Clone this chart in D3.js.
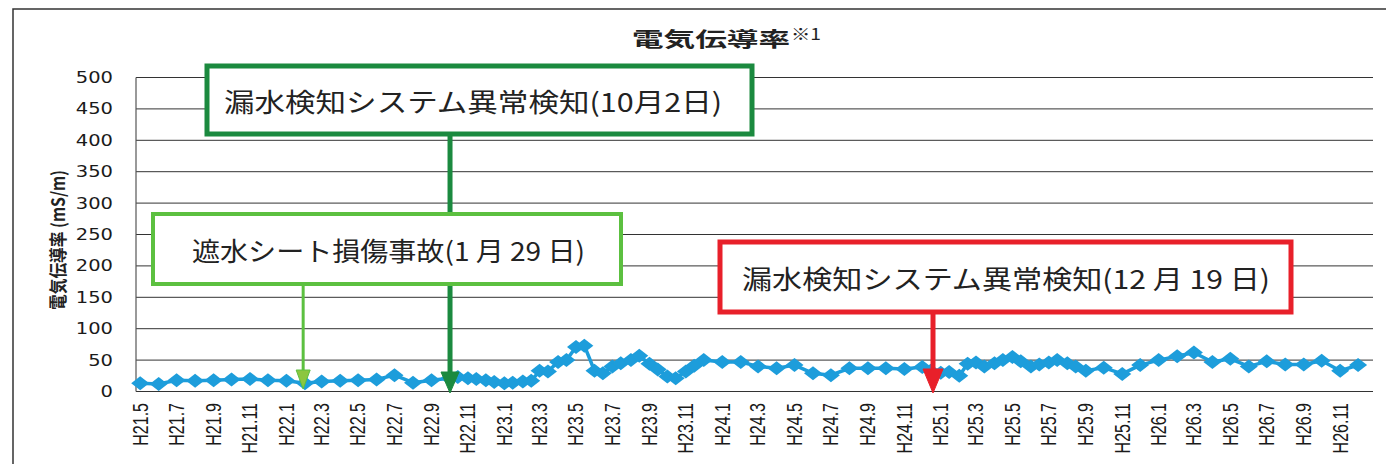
<!DOCTYPE html>
<html>
<head>
<meta charset="utf-8">
<script src="https://cdn.jsdelivr.net/npm/d3@7"></script>
<style>
  body { margin: 0; background: #fff; }
  svg { display: block; }
</style>
</head>
<body>
<div id="chart"></div>
<script>
var width = 1386;
var height = 464;

// sampling dates (monthly, twice a month in some periods)
var sampleDates = [
  "2009-05-01","2009-06-01","2009-07-01","2009-08-01","2009-09-01","2009-10-01","2009-11-01","2009-12-01",
  "2010-01-01","2010-02-01","2010-03-01","2010-04-01","2010-05-01","2010-06-01","2010-07-01","2010-08-01","2010-09-01",
  "2010-10-01","2010-10-15","2010-11-01","2010-11-15","2010-12-01","2010-12-15",
  "2011-01-01","2011-01-15","2011-02-01","2011-02-15","2011-03-01","2011-03-15","2011-04-01","2011-04-15",
  "2011-05-01","2011-05-15","2011-06-01","2011-06-15","2011-07-01","2011-07-15","2011-08-01","2011-08-15",
  "2011-09-01","2011-09-15","2011-10-01","2011-10-15","2011-11-01","2011-11-15",
  "2011-12-01","2012-01-01","2012-02-01","2012-03-01","2012-04-01","2012-05-01","2012-06-01","2012-07-01",
  "2012-08-01","2012-09-01","2012-10-01","2012-11-01",
  "2012-12-01","2012-12-15","2013-01-01","2013-01-15","2013-02-01","2013-02-15","2013-03-01","2013-03-15",
  "2013-04-01","2013-04-15","2013-05-01","2013-05-15","2013-06-01","2013-06-15","2013-07-01","2013-07-15",
  "2013-08-01","2013-08-15","2013-09-01",
  "2013-10-01","2013-11-01","2013-12-01","2014-01-01","2014-02-01","2014-03-01","2014-04-01","2014-05-01",
  "2014-06-01","2014-07-01","2014-08-01","2014-09-01","2014-10-01","2014-11-01","2014-12-01"
];

var conductivity = [
  13, 12, 18, 17, 18, 19, 20, 18,
  17, 13, 16, 17, 18, 19, 26, 14, 18,
  21, 23, 21, 20, 18, 15,
  13, 14, 16, 17, 33, 32, 47, 50,
  71, 73, 33, 29, 40, 45, 50, 57,
  44, 35, 24, 21, 32, 41,
  50, 47, 47, 40, 37, 42, 29, 26,
  37, 37, 37, 36,
  39, 33, 30, 31, 25, 44, 46, 40,
  45, 50, 55, 48, 40, 43, 46, 50,
  45, 40, 33,
  38, 28, 42, 50, 56, 62, 47, 52,
  40, 48, 43, 43, 49, 33, 42
];

var yTicks = [0, 50, 100, 150, 200, 250, 300, 350, 400, 450, 500];

var xTickLabels = [
  "H21.5","H21.7","H21.9","H21.11",
  "H22.1","H22.3","H22.5","H22.7","H22.9","H22.11",
  "H23.1","H23.3","H23.5","H23.7","H23.9","H23.11",
  "H24.1","H24.3","H24.5","H24.7","H24.9","H24.11",
  "H25.1","H25.3","H25.5","H25.7","H25.9","H25.11",
  "H26.1","H26.3","H26.5","H26.7","H26.9","H26.11"
];

var eventDates = ["2010-10-02", "2010-01-29", "2012-12-19"];
var eventLabels = [
  "漏水検知システム異常検知(10月2日)",
  "遮水シート損傷事故(1 月 29 日)",
  "漏水検知システム異常検知(12 月 19 日)"
];

var titleText = "電気伝導率";
var titleNote = "※1";
var yTitle = "電気伝導率 (mS/m)";

const parseDate = d3.timeParse("%Y-%m-%d");
const data = sampleDates.map((d, i) => ({ date: parseDate(d), value: conductivity[i] }));

// heisei label -> first day of that month
function heiseiToDate(label) {
  var parts = label.slice(1).split(".");
  return new Date(1988 + (+parts[0]), (+parts[1]) - 1, 1);
}

const x = d3.scaleTime()
  .domain([parseDate("2009-04-24"), parseDate("2014-12-26")])
  .range([136, 1373]);
const y = d3.scaleLinear().domain([0, 500]).range([391.5, 77.5]);

const svg = d3.select("#chart")
  .append("svg")
  .attr("width", width)
  .attr("height", height)
  .attr("viewBox", [0, 0, width, height]);

// outer frame
svg.append("rect")
  .attr("x", 13).attr("y", 9)
  .attr("width", 1390).attr("height", 480)
  .attr("fill", "none")
  .attr("stroke", "#333")
  .attr("stroke-width", 1.5);

// title
svg.append("text")
  .attr("x", 632).attr("y", 47)
  .attr("textLength", 158)
  .attr("lengthAdjust", "spacingAndGlyphs")
  .attr("font-family", "'Noto Sans CJK JP'")
  .attr("font-weight", 700)
  .attr("font-size", 20)
  .attr("fill", "#222")
  .text(titleText);
svg.append("text")
  .attr("x", 791).attr("y", 40)
  .attr("textLength", 30)
  .attr("lengthAdjust", "spacingAndGlyphs")
  .attr("font-family", "'Noto Sans CJK JP'")
  .attr("font-size", 16)
  .attr("fill", "#222")
  .text(titleNote);

// gridlines
svg.append("g")
  .selectAll("line")
  .data(yTicks)
  .join("line")
  .attr("x1", x.range()[0]).attr("x2", x.range()[1])
  .attr("y1", d => y(d)).attr("y2", d => y(d))
  .attr("stroke", "#333")
  .attr("stroke-width", 1);

// left axis line
svg.append("line")
  .attr("x1", x.range()[0]).attr("x2", x.range()[0])
  .attr("y1", y(500)).attr("y2", y(0))
  .attr("stroke", "#555")
  .attr("stroke-width", 1.2);

// y tick labels (stretched wide like the scan)
svg.append("g")
  .selectAll("text")
  .data(yTicks)
  .join("text")
  .attr("transform", d => "translate(113," + (y(d) + 5.5) + ") scale(1.3,1)")
  .attr("text-anchor", "end")
  .attr("font-family", "'DejaVu Sans'")
  .attr("font-size", 15)
  .attr("fill", "#1a1a1a")
  .text(d => d);

// x tick labels, rotated
svg.append("g")
  .selectAll("text")
  .data(xTickLabels)
  .join("text")
  .attr("transform", d => "translate(" + x(heiseiToDate(d)) + ",403) rotate(-90) scale(1,1.35)")
  .attr("text-anchor", "end")
  .attr("dominant-baseline", "central")
  .attr("font-family", "'Liberation Sans'")
  .attr("font-size", 16)
  .attr("fill", "#1a1a1a")
  .text(d => d);

// y axis title
svg.append("text")
  .attr("transform", "translate(57,240) rotate(-90) scale(1,1.3)")
  .attr("text-anchor", "middle")
  .attr("dominant-baseline", "central")
  .attr("textLength", 140)
  .attr("lengthAdjust", "spacingAndGlyphs")
  .attr("font-family", "'Noto Sans CJK JP'")
  .attr("font-weight", 700)
  .attr("font-size", 14)
  .attr("fill", "#222")
  .text(yTitle);

// series
const line = d3.line().x(d => x(d.date)).y(d => y(d.value));
svg.append("path")
  .attr("d", line(data))
  .attr("fill", "none")
  .attr("stroke", "#1d9ddb")
  .attr("stroke-width", 3.5)
  .attr("stroke-linejoin", "round");

svg.append("g")
  .selectAll("path")
  .data(data)
  .join("path")
  .attr("d", d => {
    var cx = x(d.date), cy = y(d.value);
    return "M" + (cx - 9) + "," + cy + "L" + cx + "," + (cy - 7) + "L" + (cx + 9) + "," + cy + "L" + cx + "," + (cy + 7) + "Z";
  })
  .attr("fill", "#1d9ddb");

// annotations
function drawArrow(ex, top, tip, headLen, headHalf, lineW, color, headFill) {
  svg.append("line")
    .attr("x1", ex).attr("x2", ex)
    .attr("y1", top).attr("y2", tip - headLen + 2)
    .attr("stroke", color)
    .attr("stroke-width", lineW);
  svg.append("path")
    .attr("d", "M" + (ex - headHalf) + "," + (tip - headLen) + "L" + (ex + headHalf) + "," + (tip - headLen) + "L" + ex + "," + tip + "Z")
    .attr("fill", headFill)
    .attr("stroke", color)
    .attr("stroke-width", 1);
}

function drawBox(x0, y0, x1, y1, color, lineW, label, tx0, tx1) {
  svg.append("rect")
    .attr("x", x0).attr("y", y0)
    .attr("width", x1 - x0).attr("height", y1 - y0)
    .attr("fill", "#fff")
    .attr("stroke", color)
    .attr("stroke-width", lineW);
  svg.append("text")
    .attr("x", tx0).attr("y", (y0 + y1) / 2)
    .attr("dominant-baseline", "central")
    .attr("textLength", tx1 - tx0)
    .attr("lengthAdjust", "spacingAndGlyphs")
    .attr("font-family", "'Noto Sans CJK JP'")
    .attr("font-size", 26)
    .attr("fill", "#222")
    .text(label);
}

// dark green: 10月2日
drawArrow(x(parseDate(eventDates[0])), 135, 393, 21, 9, 5, "#1b8a3f", "#1b8a3f");
drawBox(207, 66, 752, 134, "#1b8a3f", 5, eventLabels[0], 224, 722);

// light green: 1月29日
drawBox(153, 214, 621, 284, "#5cc040", 4, eventLabels[1], 192, 585);
drawArrow(x(parseDate(eventDates[1])), 286, 389, 19, 7, 3, "#5cc040", "#8cc63f");

// red: 12月19日
drawBox(720, 242, 1291, 312, "#e8202a", 5, eventLabels[2], 742, 1270);
drawArrow(x(parseDate(eventDates[2])), 314, 393, 24, 10, 5, "#e8202a", "#e8202a");
</script>
</body>
</html>
